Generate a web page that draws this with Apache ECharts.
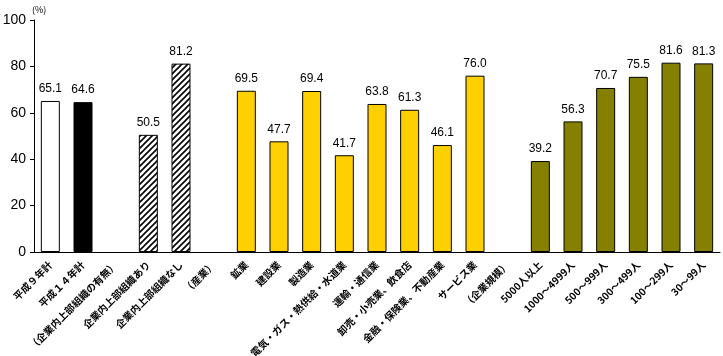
<!DOCTYPE html>
<html><head><meta charset="utf-8">
<script src="https://cdn.jsdelivr.net/npm/echarts@6/dist/echarts.min.js"></script>
<style>html,body{margin:0;padding:0;background:#fff}#c{width:723px;height:356px}</style>
</head><body><div id="c"></div>
<script>
const categories = ['平成９年計','平成１４年計','（企業内上部組織の有無）','企業内上部組織あり','企業内上部組織なし','（産業）','鉱業','建設業','製造業','電気・ガス・熱供給・水道業','運輸・通信業','卸売・小売業、飲食店','金融・保険業、不動産業','サービス業','（企業規模）','5000人以上','1000～4999人','500～999人','300～499人','100～299人','30～99人'];
const values = [65.1, 64.6, null, 50.5, 81.2, null, 69.5, 47.7, 69.4, 41.7, 63.8, 61.3, 46.1, 76.0, null, 39.2, 56.3, 70.7, 75.5, 81.6, 81.3];
const groups = ['h9','h14','','upper','upper','','ind','ind','ind','ind','ind','ind','ind','ind','','size','size','size','size','size','size'];
const yTicks = [0,20,40,60,80,100];

function hatch(){
  const c=document.createElement('canvas');c.width=6;c.height=6;
  const g=c.getContext('2d');g.fillStyle='#fff';g.fillRect(0,0,6,6);
  g.strokeStyle='#000';g.lineWidth=1.6;
  g.beginPath();g.moveTo(-1,7);g.lineTo(7,-1);g.moveTo(-1,1);g.lineTo(1,-1);g.moveTo(5,7);g.lineTo(7,5);g.stroke();
  return {image:c,repeat:'repeat'};
}
const fills = {h9:'#ffffff',h14:'#000000',upper:hatch(),ind:'#ffd000',size:'#858000'};
const data = values.map((v,i)=> v==null ? '-' : {value:v,itemStyle:{color:fills[groups[i]]}});

const chart = echarts.init(document.getElementById('c'));
chart.setOption({
  animation:false,
  grid:{left:34,right:3,top:20,bottom:104,containLabel:false,outerBoundsMode:'none'},
  xAxis:{type:'category',data:categories,
    axisLine:{lineStyle:{color:'#000',width:1}},
    axisTick:{inside:true,length:3,lineStyle:{color:'#000'}},
    axisLabel:{interval:0,rotate:45,margin:11,fontSize:10,fontWeight:'bold',color:'#000',fontFamily:'Noto Sans CJK JP'}},
  yAxis:{type:'value',min:0,max:100,interval:20,
    name:'(%)',nameLocation:'end',nameGap:6,nameTextStyle:{fontSize:9,color:'#000',align:'left',padding:[0,0,0,-2],fontFamily:'Noto Sans CJK JP'},
    axisLine:{show:true,lineStyle:{color:'#000'}},
    axisTick:{show:true,length:4,lineStyle:{color:'#000'}},
    splitLine:{show:false},
    axisLabel:{fontSize:14,color:'#000',margin:8,fontFamily:'Liberation Sans',
      formatter:v=>yTicks.includes(v)?String(v):''}},
  series:[{type:'bar',data:data,barWidth:19,
    itemStyle:{borderColor:'#000',borderWidth:1},
    label:{show:true,position:'top',distance:6,fontSize:12,color:'#000',fontFamily:'Liberation Sans',
      formatter:p=>p.value.toFixed(1)}}]
});
</script></body></html>
